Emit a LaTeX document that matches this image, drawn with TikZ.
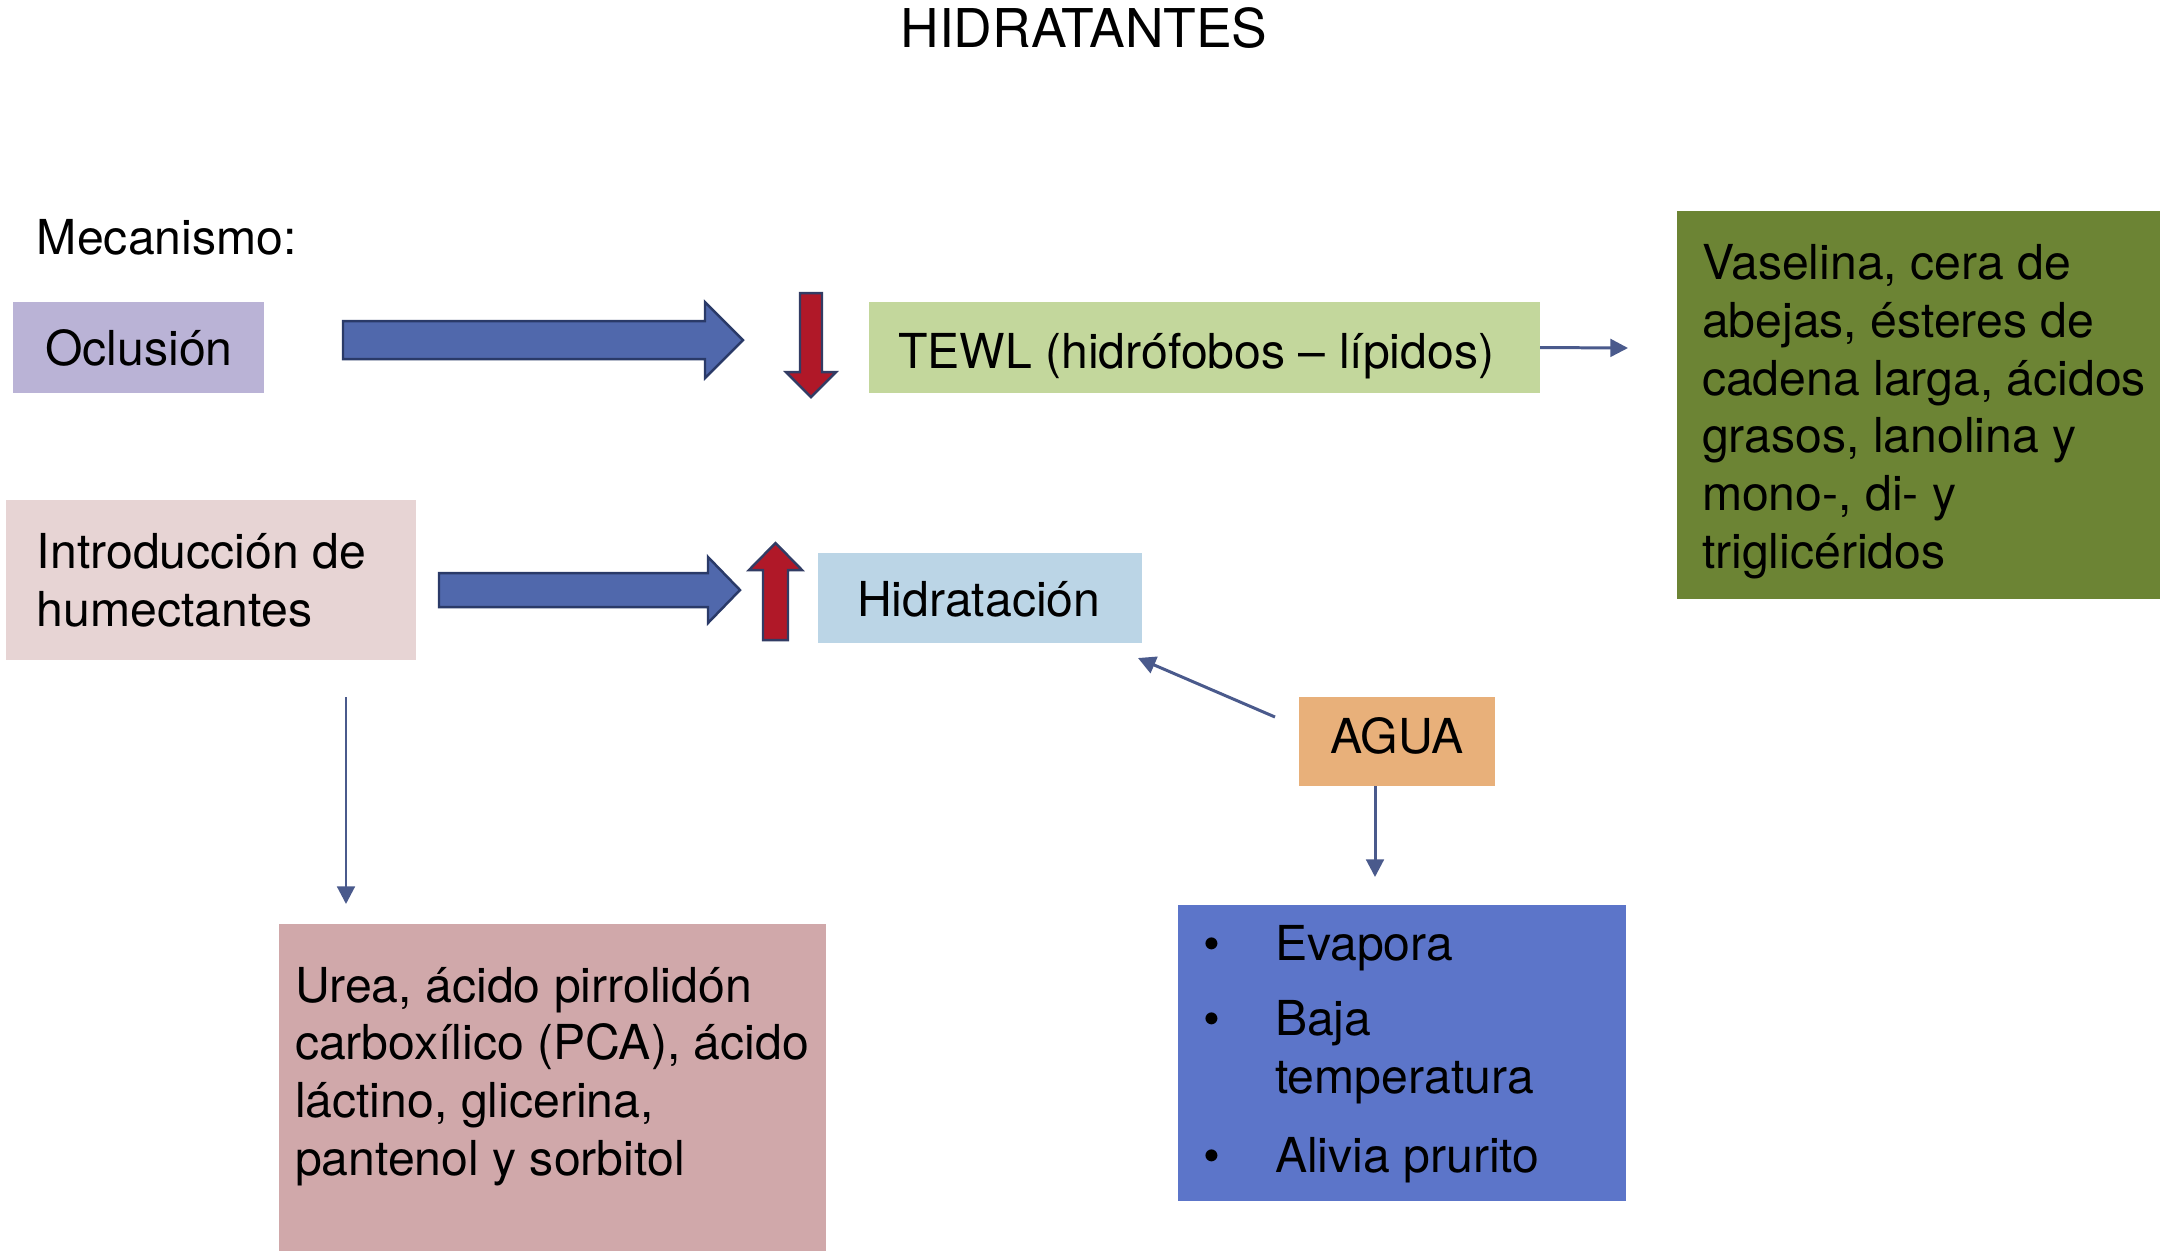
\documentclass[tikz,border=0pt]{standalone}
\usepackage{fontspec}
\setmainfont{TeX Gyre Heros}
\usetikzlibrary{arrows.meta,fit}
\definecolor{cOcl}{RGB}{186,179,214}
\definecolor{cTewl}{RGB}{195,215,156}
\definecolor{cVas}{RGB}{108,132,52}
\definecolor{cIntro}{RGB}{231,212,212}
\definecolor{cHidra}{RGB}{187,213,230}
\definecolor{cAgua}{RGB}{232,176,122}
\definecolor{cEvap}{RGB}{92,117,201}
\definecolor{cUrea}{RGB}{208,168,170}
\definecolor{cBlueFill}{RGB}{80,104,172}
\definecolor{cBlueEdge}{RGB}{42,58,104}
\definecolor{cRedFill}{RGB}{176,24,40}
\definecolor{cRedEdge}{RGB}{50,60,100}
\definecolor{cThin}{RGB}{74,90,140}
\tikzset{
  box/.style={rectangle, draw=none, inner sep=0pt, outer sep=0pt},
  txt/.style={inner sep=0pt, outer sep=0pt, font=\fontsize{13.7pt}{16.4pt}\selectfont, align=left, anchor=base west},
  ctxt/.style={txt, anchor=base},
  blockarrow/.style={fill=cBlueFill, draw=cBlueEdge, line width=0.7pt, line join=miter},
  redarrow/.style={fill=cRedFill, draw=cRedEdge, line width=0.7pt, line join=miter},
  thinarrow/.style={draw=cThin, line width=0.85pt, -{Triangle[length=5pt,width=5pt]}}
}
\begin{document}
\begin{tikzpicture}[x=0.01cm,y=-0.01cm]
\useasboundingbox (0,0) rectangle (2163,1256);
\fill[white] (0,0) rectangle (2163,1256);

% title
\node[inner sep=0pt, anchor=base, font=\fontsize{15.2pt}{18pt}\selectfont] (title) at (1084,47) {HIDRATANTES};
\node[txt] (mec) at (37,254) {Mecanismo:};

% boxes
\node[box, fill=cOcl, fit={(13,302) (264,393)}] (ocl) {};
\node[box, fill=cTewl, fit={(869,302) (1540,393)}] (tewl) {};
\node[box, fill=cVas, fit={(1677,211) (2160,599)}] (vas) {};
\node[box, fill=cIntro, fit={(6,500) (416,660)}] (intro) {};
\node[box, fill=cHidra, fit={(818,553) (1142,643)}] (hidra) {};
\node[box, fill=cAgua, fit={(1299,697) (1495,786)}] (agua) {};
\node[box, fill=cEvap, fit={(1178,905) (1626,1201)}] (evap) {};
\node[box, fill=cUrea, fit={(279,924) (826,1251)}] (urea) {};

% texts (multi-line nodes: base = last line's baseline)
\node[ctxt] (tOcl) at (139,365) {Oclusión};
\node[txt] (tTewl) at (898,368) {TEWL (hidrófobos – lípidos)};
\node[txt] (tVas) at (1702,568) {Vaselina, cera de\\abejas, ésteres de\\cadena larga, ácidos\\grasos, lanolina y\\mono-, di- y\\triglicéridos};
\node[txt] (tIntro) at (37,626) {Introducción de\\humectantes};
\node[txt] (tHidra) at (857,616) {Hidratación};
\node[ctxt] (tAgua) at (1397,753) {AGUA};
\node[txt] (tUrea) at (295,1175) {Urea, ácido pirrolidón\\carboxílico (PCA), ácido\\láctino, glicerina,\\pantenol y sorbitol};
\node[ctxt] (b1) at (1212,960) {•};
\node[ctxt] (b2) at (1212,1035) {•};
\node[ctxt] (b3) at (1212,1172) {•};
\node[txt] (e1) at (1275,960) {Evapora};
\node[txt] (e2) at (1275,1093) {Baja\\temperatura};
\node[txt] (e3) at (1275,1172) {Alivia prurito};

% block arrows
\draw[blockarrow] (343,321) -- (705,321) -- (705,302) -- (743,340) -- (705,378) -- (705,359) -- (343,359) -- cycle;
\draw[blockarrow] (439,573) -- (708,573) -- (708,557) -- (740,590) -- (708,623) -- (708,607) -- (439,607) -- cycle;
% red arrows
\draw[redarrow] (800,293) -- (822,293) -- (822,372) -- (836,372) -- (811,397) -- (786,372) -- (800,372) -- cycle;
\draw[redarrow] (763,640) -- (788,640) -- (788,570) -- (802,570) -- (775.5,543) -- (749,570) -- (763,570) -- cycle;

% thin connectors
\coordinate (tewlend) at (1628,348);
\draw[thinarrow] (tewl.east) -- (tewlend);
\coordinate (ix) at (346,0);
\draw[thinarrow, shorten <=0.37cm, shorten >=0.2cm] (intro.south -| ix) -- (urea.north -| ix);
\coordinate (ax) at (1375,0);
\draw[thinarrow, shorten >=0.28cm] (agua.south -| ax) -- (evap.north -| ax);
\coordinate (aguatail) at (1275,717);
\coordinate (hidrahead) at (1138,658);
\draw[thinarrow] (aguatail) -- (hidrahead);
\end{tikzpicture}
\end{document}
